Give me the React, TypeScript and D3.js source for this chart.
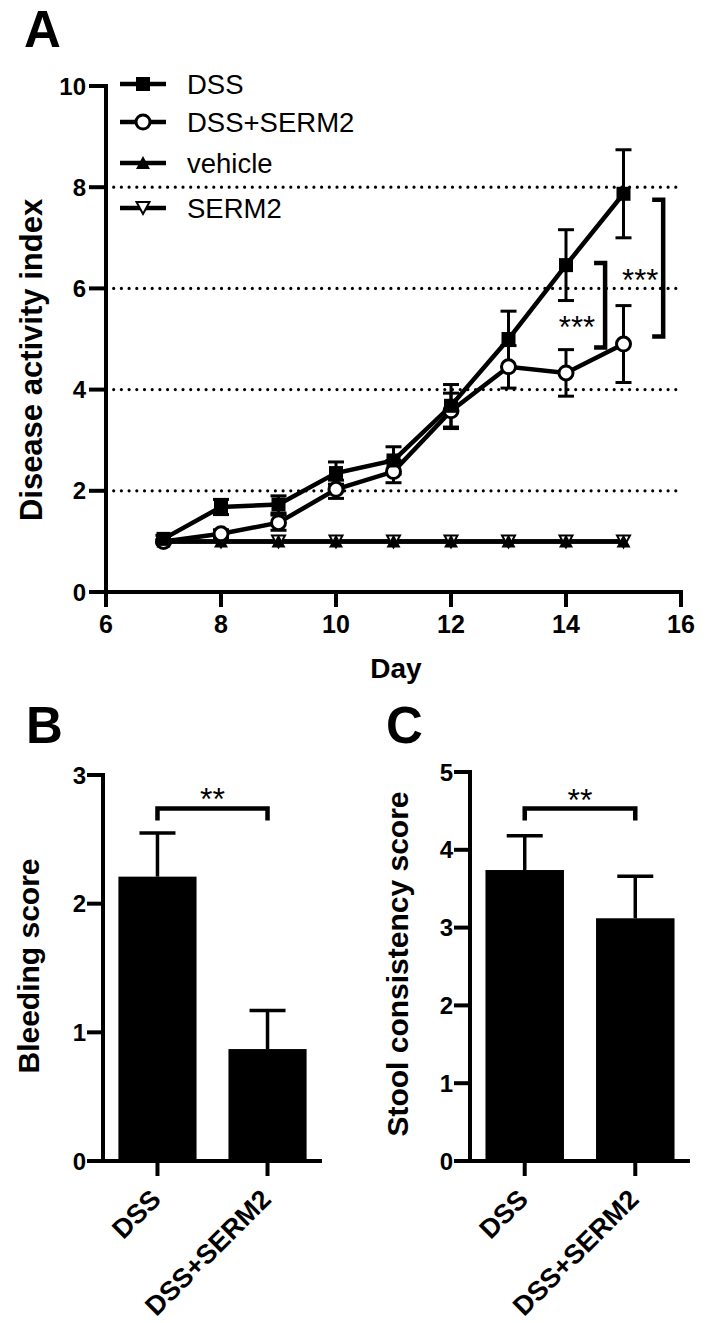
import React from 'react';
import * as d3 from 'd3';

// ---------- Panel A data ----------
const days = [7, 8, 9, 10, 11, 12, 13, 14, 15];
const dssMean = [1.05, 1.68, 1.73, 2.35, 2.6, 3.68, 5.0, 6.46, 7.87];
const dssSem = [0.07, 0.15, 0.17, 0.22, 0.27, 0.42, 0.55, 0.7, 0.87];
const dssSermMean = [1.0, 1.15, 1.37, 2.03, 2.38, 3.58, 4.45, 4.33, 4.9];
const dssSermSem = [0.03, 0.08, 0.15, 0.18, 0.22, 0.35, 0.42, 0.46, 0.76];
const vehicleMean = [1, 1, 1, 1, 1, 1, 1, 1, 1];
const serm2Mean = [1, 1, 1, 1, 1, 1, 1, 1, 1];
const seriesNames = ['DSS', 'DSS+SERM2', 'vehicle', 'SERM2'];
const aYTicks = [0, 2, 4, 6, 8, 10];
const aXTicks = [6, 8, 10, 12, 14, 16];
const aGrid = [2, 4, 6, 8];
const aBrackets = [
  { x: 14.68, from: 6.5, to: 4.83, label: '***', lx: 14.19, ly: 5.36 },
  { x: 15.69, from: 7.75, to: 5.05, label: '***', lx: 15.29, ly: 6.28 },
];

// ---------- Panels B & C data ----------
const groups = ['DSS', 'DSS+SERM2'];
const bleedMean = [2.21, 0.87];
const bleedSem = [0.34, 0.3];
const stoolMean = [3.74, 3.12];
const stoolSem = [0.44, 0.54];
const bTicks = [0, 1, 2, 3];
const cTicks = [0, 1, 2, 3, 4, 5];

const FONT = 'Liberation Sans, Arial, Helvetica, sans-serif';

function Marker({ type, x, y }: { type: string; x: number; y: number }) {
  if (type === 'square') return <rect x={x - 7} y={y - 7} width={14} height={14} fill="#000" />;
  if (type === 'circle') return <circle cx={x} cy={y} r={7} fill="#fff" stroke="#000" strokeWidth={3} />;
  if (type === 'up') return <path d={`M${x - 7},${y + 6}L${x + 7},${y + 6}L${x},${y - 7}Z`} fill="#000" />;
  return <path d={`M${x - 6.5},${y - 6}L${x + 6.5},${y - 6}L${x},${y + 6}Z`} fill="#fff" stroke="#000" strokeWidth={2} />;
}

function PanelA() {
  const x = d3.scaleLinear().domain([6, 16]).range([106, 681]);
  const y = d3.scaleLinear().domain([0, 10]).range([592, 86]);
  const line = d3.line<number>().x((_, i) => x(days[i])).y((d) => y(d));
  const series = [
    { name: seriesNames[0], mean: dssMean, sem: dssSem, marker: 'square' },
    { name: seriesNames[1], mean: dssSermMean, sem: dssSermSem, marker: 'circle' },
    { name: seriesNames[2], mean: vehicleMean, sem: null as number[] | null, marker: 'up' },
    { name: seriesNames[3], mean: serm2Mean, sem: null as number[] | null, marker: 'down' },
  ];
  const legendY = [84, 122, 163, 208];
  const drawOrder = [3, 2, 1, 0];
  return (
    <g>
      <text x={24} y={47} fontSize={51} fontWeight="bold" fontFamily={FONT}>A</text>
      {aGrid.map((g) => (
        <line key={g} x1={x(6)} x2={x(16)} y1={y(g)} y2={y(g)} stroke="#000" strokeWidth={3.2}
          strokeDasharray="0 7.7" strokeLinecap="round" />
      ))}
      {/* axes */}
      <line x1={x(6)} x2={x(6)} y1={y(0) + 2} y2={y(10) - 2} stroke="#000" strokeWidth={4} />
      <line x1={x(6) - 2} x2={x(16) + 2} y1={y(0)} y2={y(0)} stroke="#000" strokeWidth={4} />
      {aYTicks.map((t) => (
        <g key={t}>
          <line x1={x(6) - 17} x2={x(6)} y1={y(t)} y2={y(t)} stroke="#000" strokeWidth={4} />
          <text x={x(6) - 20} y={y(t) + 8.5} textAnchor="end" fontSize={24} fontWeight="bold" fontFamily={FONT}>{t}</text>
        </g>
      ))}
      {aXTicks.map((t) => (
        <g key={t}>
          <line x1={x(t)} x2={x(t)} y1={y(0)} y2={y(0) + 15} stroke="#000" strokeWidth={4} />
          <text x={x(t)} y={633} textAnchor="middle" fontSize={25} fontWeight="bold" fontFamily={FONT}>{t}</text>
        </g>
      ))}
      <text x={396} y={678} textAnchor="middle" fontSize={28} fontWeight="bold" fontFamily={FONT}>Day</text>
      <text transform={`translate(42,360) rotate(-90)`} textAnchor="middle" fontSize={31} fontWeight="bold" fontFamily={FONT}>Disease activity index</text>
      {/* lines */}
      {drawOrder.map((si) => (
        <path key={'l' + si} d={line(series[si].mean) || ''} fill="none" stroke="#000" strokeWidth={4.5} />
      ))}
      {/* error bars */}
      {series.map((s, si) =>
        s.sem
          ? s.mean.map((m, i) => {
              const cx = x(days[i]);
              const top = y(m + s.sem![i]);
              const bot = y(m - s.sem![i]);
              return (
                <g key={'e' + si + '-' + i} stroke="#000" strokeWidth={3}>
                  <line x1={cx} x2={cx} y1={top} y2={bot} />
                  <line x1={cx - 8} x2={cx + 8} y1={top} y2={top} />
                  <line x1={cx - 8} x2={cx + 8} y1={bot} y2={bot} />
                </g>
              );
            })
          : null
      )}
      {/* markers */}
      {drawOrder.map((si) =>
        series[si].mean.map((m, i) => <Marker key={'m' + si + '-' + i} type={series[si].marker} x={x(days[i])} y={y(m)} />)
      )}
      {/* brackets */}
      {aBrackets.map((b, i) => (
        <g key={'b' + i}>
          <path d={`M${x(b.x) - 11},${y(b.from)}H${x(b.x)}V${y(b.to)}H${x(b.x) - 11}`} fill="none" stroke="#000" strokeWidth={4.5} />
          <text x={x(b.lx)} y={y(b.ly) + 17} textAnchor="middle" fontSize={31} fontFamily={FONT}>{b.label}</text>
        </g>
      ))}
      {/* legend */}
      {series.map((s, i) => (
        <g key={'lg' + i}>
          <line x1={120} x2={166} y1={legendY[i]} y2={legendY[i]} stroke="#000" strokeWidth={4.5} />
          <Marker type={s.marker} x={143} y={legendY[i]} />
          <text x={187} y={legendY[i] + 10} fontSize={27.5} fontFamily={FONT}>{s.name}</text>
        </g>
      ))}
    </g>
  );
}

function BarPanel({ letter, letterX, axisX, axisRight, yTop, domainMax, ticks, mean, sem, sig, title, titleX, titleY }: any) {
  const y = d3.scaleLinear().domain([0, domainMax]).range([1161, yTop]);
  const x = d3.scaleBand<string>().domain(groups).range([axisX, axisRight]).paddingInner(0.29).paddingOuter(0.14);
  const bw = x.bandwidth();
  const c0 = x(groups[0])! + bw / 2;
  const c1 = x(groups[1])! + bw / 2;
  return (
    <g>
      <text x={letterX} y={743} fontSize={51} fontWeight="bold" fontFamily={FONT}>{letter}</text>
      {groups.map((g, i) => {
        const bx = x(g)!;
        const cx = bx + bw / 2;
        return (
          <g key={g}>
            <line x1={cx} x2={cx} y1={y(mean[i])} y2={y(mean[i] + sem[i])} stroke="#000" strokeWidth={3.5} />
            <line x1={cx - 18} x2={cx + 18} y1={y(mean[i] + sem[i])} y2={y(mean[i] + sem[i])} stroke="#000" strokeWidth={3.5} />
            <rect x={bx} y={y(mean[i])} width={bw} height={y(0) - y(mean[i])} fill="#000" />
            <line x1={cx} x2={cx} y1={y(0)} y2={y(0) + 15} stroke="#000" strokeWidth={4} />
            <text transform={`translate(${cx + 5},1201) rotate(-45)`} textAnchor="end" fontSize={27} fontWeight="bold" fontFamily={FONT}>{g}</text>
          </g>
        );
      })}
      <line x1={axisX} x2={axisX} y1={y(0)} y2={y(domainMax) - 2} stroke="#000" strokeWidth={4} />
      <line x1={axisX - 16} x2={axisRight} y1={y(0)} y2={y(0)} stroke="#000" strokeWidth={4} />
      {ticks.map((t: number) => (
        <g key={t}>
          <line x1={axisX - 16} x2={axisX} y1={y(t)} y2={y(t)} stroke="#000" strokeWidth={4} />
          <text x={axisX - 17} y={y(t) + 8.5} textAnchor="end" fontSize={24} fontWeight="bold" fontFamily={FONT}>{t}</text>
        </g>
      ))}
      <path d={`M${c0},${y(sig) + 12}V${y(sig)}H${c1}V${y(sig) + 12}`} fill="none" stroke="#000" strokeWidth={4.5} />
      <text x={(c0 + c1) / 2} y={y(sig) + 2} textAnchor="middle" fontSize={32} fontFamily={FONT}>**</text>
      <text transform={`translate(${titleX},${titleY}) rotate(-90)`} textAnchor="middle" fontSize={30} fontWeight="bold" fontFamily={FONT}>{title}</text>
    </g>
  );
}

export default function App() {
  return (
    <svg width={713} height={1323} style={{ position: 'absolute', left: 0, top: 0, background: '#fff' }}>
      <rect width={713} height={1323} fill="#fff" />
      <PanelA />
      <BarPanel letter="B" letterX={26} axisX={103} axisRight={322} yTop={775} domainMax={3} ticks={bTicks}
        mean={bleedMean} sem={bleedSem} sig={2.74} title="Bleeding score" titleX={39} titleY={966} />
      <BarPanel letter="C" letterX={386} axisX={470} axisRight={690} yTop={772} domainMax={5} ticks={cTicks}
        mean={stoolMean} sem={stoolSem} sig={4.53} title="Stool consistency score" titleX={408} titleY={964} />
    </svg>
  );
}
